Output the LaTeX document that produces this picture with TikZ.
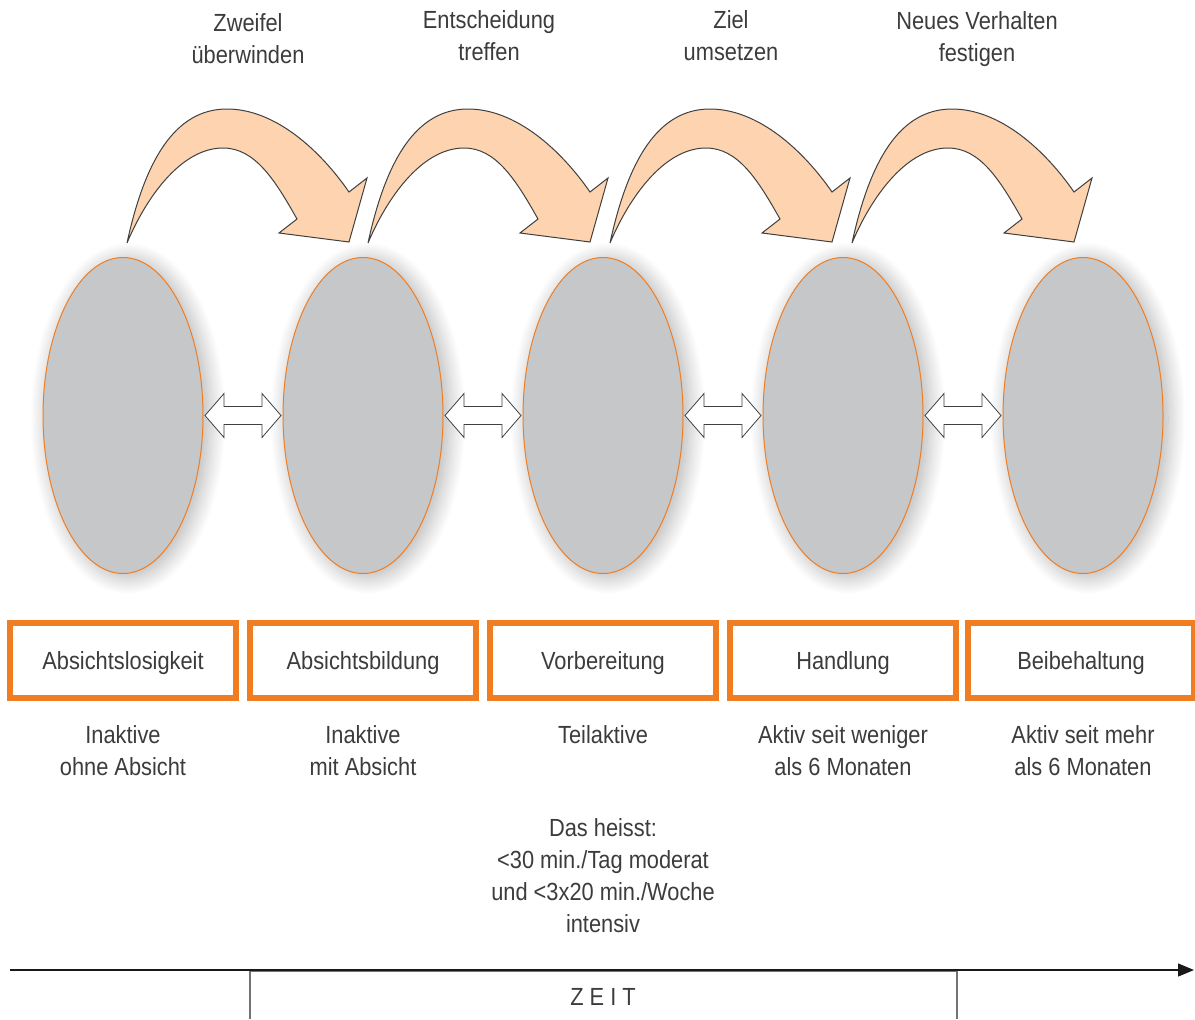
\documentclass[tikz,border=0pt]{standalone}
\usepackage{fontspec}
\setmainfont{Liberation Sans}[FakeStretch=0.88]
\usetikzlibrary{shapes.geometric,shadows.blur,arrows.meta,calc}

\definecolor{stageorange}{HTML}{F07D22}
\definecolor{stagegray}{HTML}{C6C7C9}
\definecolor{peach}{HTML}{FDD4AF}
\definecolor{txt}{HTML}{3C3C3C}

\tikzset{
  lbl/.style={text=txt, font=\fontsize{12.4}{16}\selectfont, align=center, inner sep=0pt},
  stage/.style={ellipse, draw=stageorange, line width=0.5pt, fill=stagegray,
    minimum width=80pt, minimum height=158pt, inner sep=0pt,
    blur shadow={shadow xshift=2.5pt, shadow yshift=-1.5pt, shadow blur radius=9pt,
      shadow blur steps=20, shadow opacity=32}},
  phasebox/.style={rectangle, draw=stageorange, line width=2.6pt, fill=white,
    minimum width=113pt, minimum height=37.5pt, inner sep=0pt,
    text height=1.7ex, text depth=0pt,
    text=txt, font=\fontsize{12.4}{16}\selectfont},
  swaparrow/.style={draw=black!75, line width=0.4pt, fill=white},
  bendarrow/.style={draw=black!75, line width=0.5pt, fill=peach},
}

\begin{document}
\begin{tikzpicture}[x=0.5pt, y=-0.5pt]
\useasboundingbox (0,0) rectangle (1195,1019);

% stage ellipses
\foreach \i/\cx in {1/123, 2/363, 3/603, 4/843, 5/1083}
  \node[stage] (e\i) at (\cx,415.5) {};

% two-way arrows between neighbouring stages
\foreach \a/\b in {1/2, 2/3, 3/4, 4/5}{
  \coordinate (m\a) at ($(e\a.east)!0.5!(e\b.west)$);
  \draw[swaparrow] ($(m\a)+(-38,0)$) -- ++(19,-22) -- ++(0,13) -- ++(38,0) -- ++(0,-13)
    -- ++(19,22) -- ++(-19,22) -- ++(0,-13) -- ++(-38,0) -- ++(0,13) -- cycle;
}

% curved transition arrows
\foreach \s in {0, 241, 483, 725}{
  \begin{scope}[xshift=\s*0.5pt]
    \draw[bendarrow] (127,243) .. controls (145,160) and (175,109) .. (227,109)
      .. controls (275,109) and (320,150) .. (349,192)
      -- (367,178) -- (349,242) -- (279,233) -- (297,219)
      .. controls (275,180) and (255,148) .. (223,148)
      .. controls (180,148) and (145,200) .. (127,243) -- cycle;
  \end{scope}
}

% transition labels
\node[lbl] (t1) at (248,39) {Zweifel\\überwinden};
\node[lbl] (t2) at (489,36) {Entscheidung\\treffen};
\node[lbl] (t3) at (731,36) {Ziel\\umsetzen};
\node[lbl] (t4) at (977,39) {Neues Verhalten\\festigen};

% phase boxes
\node[phasebox] (b1) at (123,660.5) {Absichtslosigkeit};
\node[phasebox] (b2) at (363,660.5) {Absichtsbildung};
\node[phasebox] (b3) at (603,660.5) {Vorbereitung};
\node[phasebox] (b4) at (843,660.5) {Handlung};
\node[phasebox] (b5) at (1081,660.5) {Beibehaltung};

% descriptions
\node[lbl] (d1) at (123,751) {Inaktive\\ohne Absicht};
\node[lbl] (d2) at (363,751) {Inaktive\\mit Absicht};
\node[lbl] (d3) at (603,735) {Teilaktive};
\node[lbl] (d4) at (843,751) {Aktiv seit weniger\\als 6 Monaten};
\node[lbl] (d5) at (1083,751) {Aktiv seit mehr\\als 6 Monaten};
\node[lbl] (note) at (603,875.5) {Das heisst:\\<30 min./Tag moderat\\und <3x20 min./Woche\\intensiv};

% time axis
\coordinate (ts) at (10,970);
\coordinate (te) at (1194,970);
\draw[line width=0.7pt, black!90, -{Triangle[length=8pt,width=6.5pt]}] (ts) -- (te);
\coordinate (bl) at (250,1019);
\coordinate (br) at (957,1019);
\draw[line width=0.6pt, black!55] (bl) -- (250,971.5) -- (957,971.5) -- (br);
\node[lbl] (zeit) at (603,997) {Z E I T};
\end{tikzpicture}
\end{document}
